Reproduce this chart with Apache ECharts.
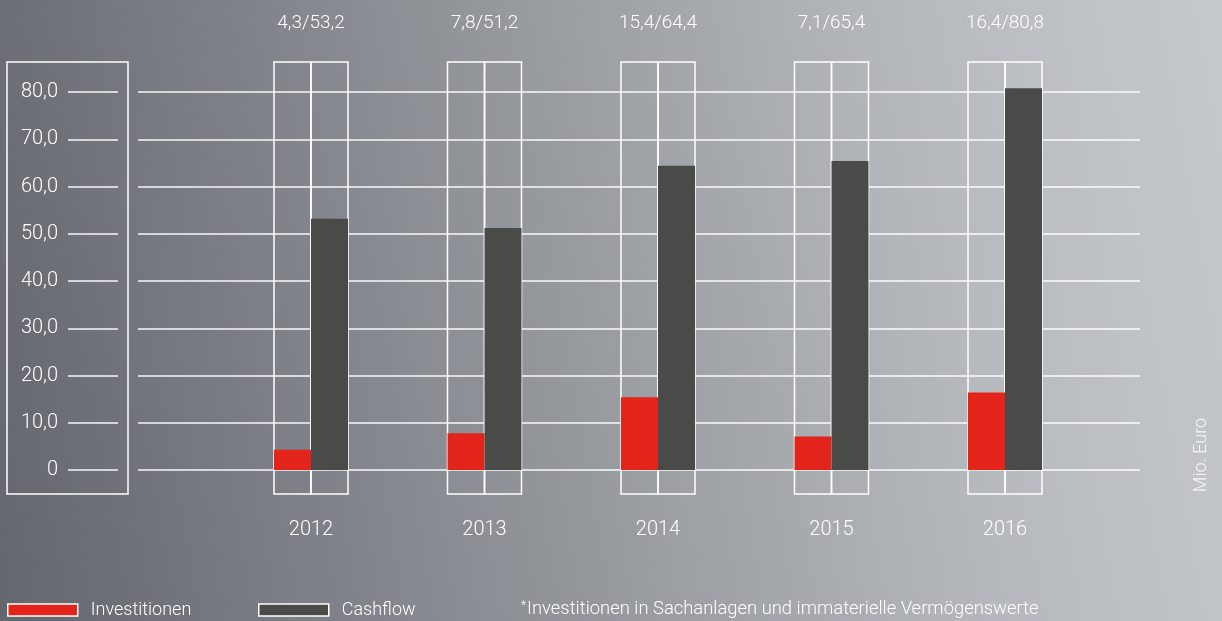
<!DOCTYPE html>
<html>
<head>
<meta charset="utf-8">
<script src="https://cdn.jsdelivr.net/npm/echarts@6/dist/echarts.min.js"></script>
<style>
html,body{margin:0;padding:0;}
#c{width:1222px;height:621px;background:linear-gradient(80deg,#63666c 0%,#7e8187 25%,#9a9da2 50%,#b5b8bc 75%,#c6c9cd 100%);}
</style>
</head>
<body>
<div id="c"></div>
<script>
var years = ['2012','2013','2014','2015','2016'];
var investitionen = [4.3, 7.8, 15.4, 7.1, 16.4];
var cashflow = [53.2, 51.2, 64.4, 65.4, 80.8];
var yTickLabels = ['0','10,0','20,0','30,0','40,0','50,0','60,0','70,0','80,0'];

function fmt(v){ return v.toFixed(1).replace('.', ','); }
var FONT = 'Roboto';
var chart = echarts.init(document.getElementById('c'), null, {renderer:'canvas'});
var white = '#ffffff';
chart.setOption({
  backgroundColor: 'transparent',
  animation: false,
  grid: [
    {left: 68, right: 1104, top: 92, bottom: 151},
    {left: 138, right: 82, top: 92, bottom: 151},
    {left: 224.25, right: 130.25, top: 62, bottom: 127}
  ],
  xAxis: [
    {gridIndex:0, type:'value', show:false},
    {gridIndex:1, type:'value', show:false},
    {gridIndex:2, type:'category', data: years, position:'bottom',
     axisLine:{show:false}, axisTick:{show:false},
     axisLabel:{color:white, fontFamily:FONT, fontWeight:300, fontSize:20, margin:26}},
    {gridIndex:2, type:'category', data: years, position:'top',
     axisLine:{show:false}, axisTick:{show:false},
     axisLabel:{color:white, fontFamily:FONT, fontWeight:300, fontSize:19, margin:29,
       formatter:function(v, i){ return fmt(investitionen[i]) + '/' + fmt(cashflow[i]); }}}
  ],
  yAxis: [
    {gridIndex:0, type:'value', min:0, max:80, interval:10,
     axisLine:{show:false}, axisTick:{show:false},
     splitLine:{show:true, lineStyle:{color:'rgba(255,255,255,0.95)', width:1.5}},
     axisLabel:{color:white, fontFamily:FONT, fontWeight:300, fontSize:20, margin:10,
       formatter:function(v){ return yTickLabels[Math.round(v/10)]; }}},
    {gridIndex:1, type:'value', min:0, max:80, interval:10,
     axisLine:{show:false}, axisTick:{show:false}, axisLabel:{show:false},
     splitLine:{show:true, lineStyle:{color:'rgba(255,255,255,0.95)', width:1.5}}},
    {gridIndex:2, type:'value', min:-5.08, max:86.35, show:false, splitLine:{show:false}}
  ],
  legend: [
    {left: 7, top: 601, padding: 0, itemWidth: 70, itemHeight: 12, icon:'rect',
     data: ['Investitionen'], selectedMode:false,
     itemStyle:{borderColor:white, borderWidth:1.5},
     textStyle:{color:white, fontFamily:FONT, fontWeight:300, fontSize:18, padding:[0,0,0,8]}},
    {left: 258, top: 601, padding: 0, itemWidth: 70, itemHeight: 12, icon:'rect',
     data: ['Cashflow'], selectedMode:false,
     itemStyle:{borderColor:white, borderWidth:1.5},
     textStyle:{color:white, fontFamily:FONT, fontWeight:300, fontSize:18, padding:[0,0,0,8]}}
  ],
  title: {
    left: 521, top: 600, padding: 0,
    text: '{s|*}Investitionen in Sachanlagen und immaterielle Vermögenswerte',
    textStyle:{color:white, fontFamily:FONT, fontWeight:300, fontSize:18.4,
      rich:{s:{color:white, fontFamily:FONT, fontWeight:300, fontSize:12, verticalAlign:'top', padding:[0,1,6,0]}}}
  },
  graphic: [
    {type:'rect', shape:{x:7, y:62, width:121, height:432},
     style:{fill:'none', stroke:white, lineWidth:1.5}},
    {type:'text', x:1201, y:455, rotation: Math.PI/2,
     style:{text:'Mio. Euro', fill:'rgba(255,255,255,0.85)', font:'300 18px Roboto',
       textAlign:'center', textVerticalAlign:'middle'}}
  ],
  series: [
    {name:'Investitionen', type:'bar', xAxisIndex:2, yAxisIndex:2, data: investitionen,
     barWidth: 37, barGap: '0%',
     itemStyle:{color:'#e3241b'},
     showBackground:true,
     backgroundStyle:{color:'rgba(0,0,0,0)', borderColor:white, borderWidth:1.5}},
    {name:'Cashflow', type:'bar', xAxisIndex:2, yAxisIndex:2, data: cashflow,
     barWidth: 37, barGap: '0%',
     itemStyle:{color:'#4a4a48'},
     showBackground:true,
     backgroundStyle:{color:'rgba(0,0,0,0)', borderColor:white, borderWidth:1.5}}
  ]
});
</script>
</body>
</html>
